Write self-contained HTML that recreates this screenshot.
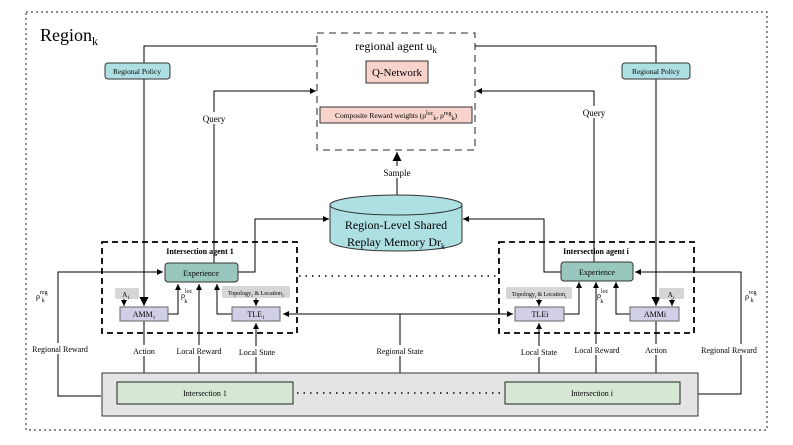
<!DOCTYPE html>
<html><head><meta charset="utf-8"><style>
html,body{margin:0;padding:0;background:#fff}
svg{display:block;font-family:"Liberation Serif",serif}
</style></head><body>
<svg width="793" height="445" viewBox="0 0 793 445" xmlns="http://www.w3.org/2000/svg">
<defs>
<marker id="a" markerWidth="8" markerHeight="8" refX="6" refY="3" orient="auto" markerUnits="userSpaceOnUse"><path d="M0,0 L6,3 L0,6 z" fill="#000"/></marker>
<marker id="b" markerWidth="12" markerHeight="12" refX="9" refY="4.5" orient="auto" markerUnits="userSpaceOnUse"><path d="M0,0 L9,4.5 L0,9 z" fill="#000"/></marker>
</defs>
<rect x="26" y="12" width="741" height="418" fill="none" stroke="#444" stroke-width="1.2" stroke-dasharray="2,3"/>
<text x="40" y="41" font-size="18">Region<tspan font-size="12" dy="4">k</tspan></text>

<!-- regional agent -->
<rect x="317" y="33" width="158" height="117" fill="none" stroke="#555" stroke-width="1.3" stroke-dasharray="7,5"/>
<text x="396" y="50" font-size="12" text-anchor="middle">regional agent u<tspan font-size="9" dy="3">k</tspan></text>
<rect x="366" y="61" width="62" height="22" fill="#f8d3cc" stroke="#333"/>
<text x="397" y="76" font-size="11" text-anchor="middle">Q-Network</text>
<rect x="320" y="107" width="152" height="16" fill="#f8d3cc" stroke="#333"/>
<text x="396" y="118" font-size="7.5" text-anchor="middle">Composite Reward weights (ρ<tspan dy="-3" font-size="6">loc</tspan><tspan dy="5" font-size="6">k</tspan><tspan dy="-2">, ρ</tspan><tspan dy="-3" font-size="6">reg</tspan><tspan dy="5" font-size="6">k</tspan><tspan dy="-2">)</tspan></text>

<!-- policy lines -->
<polyline points="317,46 144,46 144,306" fill="none" stroke="#000" marker-end="url(#b)"/>
<polyline points="475,46 656,46 656,306" fill="none" stroke="#000" marker-end="url(#b)"/>
<rect x="105" y="63" width="65" height="16" rx="3" fill="#aee0e3" stroke="#333"/>
<text x="137" y="74" font-size="7.5" text-anchor="middle">Regional Policy</text>
<rect x="622" y="63" width="68" height="16" rx="3" fill="#aee0e3" stroke="#333"/>
<text x="656" y="74" font-size="7.5" text-anchor="middle">Regional Policy</text>

<!-- query -->
<polyline points="214,263 214,91 316,91" fill="none" stroke="#000" marker-end="url(#a)"/>
<polyline points="594,262 594,91 476,91" fill="none" stroke="#000" marker-end="url(#a)"/>
<rect x="198" y="112" width="32" height="12" fill="#fff"/>
<text x="214" y="122" font-size="9" text-anchor="middle">Query</text>
<rect x="578" y="106" width="32" height="12" fill="#fff"/>
<text x="594" y="116" font-size="9" text-anchor="middle">Query</text>

<!-- sample -->
<line x1="397" y1="195" x2="397" y2="152" stroke="#000" marker-end="url(#b)"/>
<rect x="378" y="166" width="38" height="12" fill="#fff"/>
<text x="397" y="176" font-size="9" text-anchor="middle">Sample</text>

<!-- cylinder -->
<path d="M330,205 L330,241 A66,10 0 0 0 462,241 L462,205" fill="#aee0e3" stroke="#333"/>
<ellipse cx="396" cy="205" rx="66" ry="10" fill="#aee0e3" stroke="#333"/>
<text x="396" y="229" font-size="12" text-anchor="middle">Region-Level Shared</text>
<text x="396" y="246" font-size="12" text-anchor="middle">Replay Memory Dr<tspan font-size="8" dy="3">k</tspan></text>
<polyline points="238,272 255,272 255,219 329,219" fill="none" stroke="#000" marker-end="url(#a)"/>
<polyline points="561,272 544,272 544,219 463,219" fill="none" stroke="#000" marker-end="url(#a)"/>

<!-- agent boxes -->
<rect x="102" y="242" width="195" height="91" fill="none" stroke="#000" stroke-width="1.8" stroke-dasharray="6,4"/>
<rect x="499" y="242" width="195" height="91" fill="none" stroke="#000" stroke-width="1.8" stroke-dasharray="6,4"/>
<text x="200" y="254" font-size="8" font-weight="bold" text-anchor="middle">Intersection agent 1</text>
<text x="596" y="254" font-size="8" font-weight="bold" text-anchor="middle">Intersection agent i</text>
<line x1="299" y1="276" x2="497" y2="276" stroke="#000" stroke-width="1.5" stroke-dasharray="1.5,5"/>

<!-- regional state -->
<line x1="400" y1="314" x2="400" y2="373" stroke="#000"/>
<line x1="400" y1="314" x2="283" y2="314" stroke="#000" marker-end="url(#a)"/>
<line x1="400" y1="314" x2="513" y2="314" stroke="#000" marker-end="url(#a)"/>

<!-- agent 1 internals -->
<polyline points="168,314 178,314 178,284" fill="none" stroke="#000" marker-end="url(#a)"/>
<polyline points="232,314 217,314 217,284" fill="none" stroke="#000" marker-end="url(#a)"/>
<line x1="199" y1="381" x2="199" y2="284" stroke="#000" marker-end="url(#a)"/>
<line x1="256" y1="381" x2="256" y2="323" stroke="#000" marker-end="url(#a)"/>
<line x1="144" y1="321" x2="144" y2="380" stroke="#000" marker-end="url(#a)"/>
<line x1="124" y1="299" x2="124" y2="306" stroke="#000" marker-end="url(#a)"/>
<line x1="256" y1="298" x2="256" y2="306" stroke="#000" marker-end="url(#a)"/>
<rect x="165" y="263" width="73" height="19" rx="3" fill="#98c7be" stroke="#333"/>
<text x="201" y="276" font-size="8" text-anchor="middle">Experience</text>
<rect x="115" y="288" width="24" height="11" rx="2" fill="#d6d6d6"/>
<text x="126" y="297" font-size="7" text-anchor="middle">A<tspan font-size="5" dy="2">1</tspan></text>
<rect x="120" y="307" width="48" height="14" fill="#d1cfe6" stroke="#666"/>
<text x="144" y="317" font-size="8" text-anchor="middle">AMM<tspan font-size="5" dy="2">1</tspan></text>
<rect x="222" y="286" width="68" height="12" rx="2" fill="#d6d6d6"/>
<text x="256" y="295" font-size="6" text-anchor="middle">Topology<tspan font-size="4" dy="2">1</tspan><tspan dy="-2"> &amp; Location</tspan><tspan font-size="4" dy="2">1</tspan></text>
<rect x="232" y="307" width="48" height="14" fill="#d1cfe6" stroke="#666"/>
<text x="256" y="317" font-size="8" text-anchor="middle">TLE<tspan font-size="5" dy="2">1</tspan></text>
<text x="181" y="298" font-size="8">ρ<tspan font-size="6" dy="-5">loc</tspan><tspan font-size="6" dx="-8" dy="10">k</tspan></text>

<!-- agent i internals -->
<polyline points="564,314 579,314 579,282" fill="none" stroke="#000" marker-end="url(#a)"/>
<polyline points="630,314 616,314 616,282" fill="none" stroke="#000" marker-end="url(#a)"/>
<line x1="596" y1="381" x2="596" y2="282" stroke="#000" marker-end="url(#a)"/>
<line x1="539" y1="381" x2="539" y2="323" stroke="#000" marker-end="url(#a)"/>
<line x1="656" y1="321" x2="656" y2="380" stroke="#000" marker-end="url(#a)"/>
<line x1="672" y1="299" x2="672" y2="306" stroke="#000" marker-end="url(#a)"/>
<line x1="539" y1="298" x2="539" y2="306" stroke="#000" marker-end="url(#a)"/>
<rect x="561" y="262" width="72" height="19" rx="3" fill="#98c7be" stroke="#333"/>
<text x="597" y="275" font-size="8" text-anchor="middle">Experience</text>
<rect x="659" y="288" width="25" height="11" rx="2" fill="#d6d6d6"/>
<text x="671" y="297" font-size="7" text-anchor="middle">A<tspan font-size="5" dy="2">i</tspan></text>
<rect x="630" y="307" width="49" height="14" fill="#d1cfe6" stroke="#666"/>
<text x="655" y="317" font-size="8" text-anchor="middle">AMMi</text>
<rect x="506" y="287" width="66" height="12" rx="2" fill="#d6d6d6"/>
<text x="539" y="296" font-size="6" text-anchor="middle">Topology<tspan font-size="4" dy="2">i</tspan><tspan dy="-2"> &amp; Location</tspan><tspan font-size="4" dy="2">i</tspan></text>
<rect x="515" y="307" width="49" height="14" fill="#d1cfe6" stroke="#666"/>
<text x="540" y="317" font-size="8" text-anchor="middle">TLEi</text>
<text x="597" y="298" font-size="8">ρ<tspan font-size="6" dy="-5">loc</tspan><tspan font-size="6" dx="-8" dy="10">k</tspan></text>

<!-- regional reward -->
<polyline points="101,396 58,396 58,272 163,272" fill="none" stroke="#000" marker-end="url(#a)"/>
<polyline points="698,394 741,394 741,272 635,272" fill="none" stroke="#000" marker-end="url(#a)"/>
<text x="36" y="299" font-size="8">ρ<tspan font-size="6" dy="-5">reg</tspan><tspan font-size="6" dx="-6" dy="8">k</tspan></text>
<text x="745" y="299" font-size="8">ρ<tspan font-size="6" dy="-5">reg</tspan><tspan font-size="6" dx="-6" dy="8">k</tspan></text>

<!-- labels on lines -->
<g font-size="8" text-anchor="middle">
<rect x="29" y="343" width="62" height="11" fill="#fff"/><text x="60" y="352">Regional Reward</text>
<rect x="130" y="345" width="28" height="11" fill="#fff"/><text x="144" y="354">Action</text>
<rect x="175" y="345" width="50" height="11" fill="#fff"/><text x="199" y="354">Local Reward</text>
<rect x="236" y="346" width="42" height="11" fill="#fff"/><text x="257" y="355">Local State</text>
<rect x="372" y="345" width="56" height="11" fill="#fff"/><text x="400" y="354">Regional State</text>
<rect x="518" y="346" width="42" height="11" fill="#fff"/><text x="539" y="355">Local State</text>
<rect x="572" y="344" width="50" height="11" fill="#fff"/><text x="597" y="353">Local Reward</text>
<rect x="642" y="344" width="28" height="11" fill="#fff"/><text x="656" y="353">Action</text>
<rect x="698" y="344" width="62" height="11" fill="#fff"/><text x="729" y="353">Regional Reward</text>
</g>

<!-- bottom -->
<rect x="102" y="373" width="596" height="43" fill="#e4e4e4" stroke="#333"/>
<rect x="117" y="382" width="176" height="22" fill="#d6e8d4" stroke="#222"/>
<text x="205" y="396" font-size="8" text-anchor="middle">Intersection 1</text>
<rect x="505" y="382" width="175" height="22" fill="#d6e8d4" stroke="#222"/>
<text x="592" y="396" font-size="8" text-anchor="middle">Intersection i</text>
<line x1="297" y1="393" x2="503" y2="393" stroke="#000" stroke-width="1.5" stroke-dasharray="1.5,5"/>
</svg>
</body></html>
